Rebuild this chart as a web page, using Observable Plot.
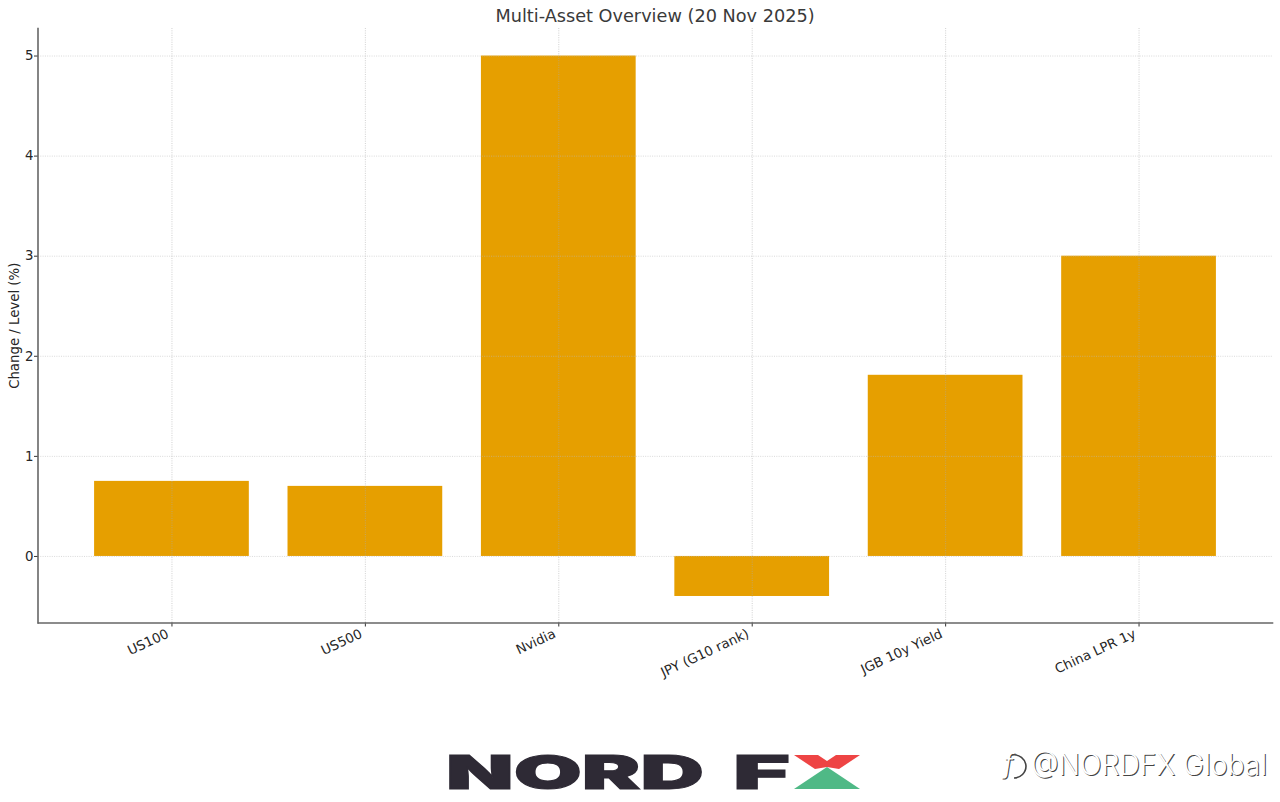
<!DOCTYPE html>
<html>
<head>
<meta charset="utf-8">
<script src="https://cdn.jsdelivr.net/npm/d3@7"></script>
<script src="https://cdn.jsdelivr.net/npm/@observablehq/plot@0.6"></script>
<style>
  html, body { margin: 0; background: #fff; width: 1280px; height: 802px; overflow: hidden; font-family: "DejaVu Sans", sans-serif; }
  #title { position: absolute; left: 38px; width: 1234px; top: 5px; text-align: center; font-size: 17.7px; line-height: 22px; color: #3a3a3a; }
  #chart { position: absolute; left: 0; top: 0; }
  #logo { position: absolute; left: 0; top: 0; }
</style>
</head>
<body>
<div id="chart"></div>
<div id="title">Multi-Asset Overview (20 Nov 2025)</div>
<svg id="logo" width="1280" height="802" style="pointer-events:none">
  <text x="446" y="788.5" font-family="Inter, sans-serif" font-weight="900" font-size="47" textLength="258" lengthAdjust="spacingAndGlyphs" fill="#2e2a35" stroke="#2e2a35" stroke-width="1">NORD</text>
  <text x="733" y="788.5" font-family="Inter, sans-serif" font-weight="900" font-size="47" textLength="57" lengthAdjust="spacingAndGlyphs" fill="#2e2a35" stroke="#2e2a35" stroke-width="1">F</text>
  <polygon points="794,755 818,755 827,761 836,755 860,755 839,769 827,767 815,769" fill="#ee4444"/>
  <polygon points="794,789 827,767 860,789" fill="#4fb986"/>
  <g font-family="Inter, Roboto, sans-serif" font-weight="300" font-size="29.5">
    <g fill="#444" transform="translate(1,0.6)">
      <text x="1004" y="773" font-size="26" font-style="italic">f</text>
      <text x="1031" y="775" textLength="236" lengthAdjust="spacingAndGlyphs">@NORDFX Global</text>
    </g>
    <path d="M1012,755 A12,12 0 0 1 1026,766 A12,12 0 0 1 1014,778" fill="none" stroke="#444" stroke-width="1.6"/>
    <g fill="#fff">
      <text x="1004" y="773" font-size="26" font-style="italic">f</text>
      <text x="1031" y="775" textLength="236" lengthAdjust="spacingAndGlyphs">@NORDFX Global</text>
    </g>
  </g>
</svg>
<script>
const categories = ["US100", "US500", "Nvidia", "JPY (G10 rank)", "JGB 10y Yield", "China LPR 1y"];
const values = [0.75, 0.7, 5, -0.4, 1.81, 3];
const yTicks = [0, 1, 2, 3, 4, 5];
const rows = categories.map((name, i) => ({name, value: values[i]}));

const chart = Plot.plot({
  width: 1280,
  height: 700,
  marginLeft: 38,
  marginRight: 8,
  marginTop: 28,
  marginBottom: 77.5,
  style: {fontFamily: "DejaVu Sans, sans-serif", fontSize: "13.3px", color: "#262626", background: "#fff"},
  x: {domain: categories, paddingInner: 0.2, paddingOuter: 0.29, round: false, label: null},
  y: {domain: [-0.665, 5.275], label: null},
  marks: [
    Plot.barY(rows, {x: "name", y: "value", fill: "#E69F00"}),
    Plot.gridX(categories, {stroke: "#aaa", strokeOpacity: 0.7, strokeWidth: 0.8, strokeDasharray: "1,1.3"}),
    Plot.gridY(yTicks, {stroke: "#bbb", strokeOpacity: 0.7, strokeWidth: 0.8, strokeDasharray: "1,1.3"}),
    Plot.axisY(yTicks, {anchor: "left", tickSize: 4, tickPadding: 1, label: null, tickFormat: d => String(d), stroke: "#333"}),
    Plot.axisX(categories, {anchor: "bottom", tickSize: 4, tickFormat: () => "", label: null, stroke: "#333"}),
    Plot.axisX(categories, {anchor: "bottom", tickSize: 0, tickPadding: 10, tickRotate: -25, label: null, dx: -4}),
    Plot.axisY({anchor: "left", ticks: [], label: "Change / Level (%)", labelAnchor: "center", labelArrow: "none", labelOffset: 29, tickSize: 0}),
    Plot.frame({anchor: "left", stroke: "#666", strokeWidth: 1.6, dx: -0.5}),
    Plot.frame({anchor: "bottom", stroke: "#666", strokeWidth: 1.6})
  ]
});
document.getElementById("chart").appendChild(chart);
</script>
</body>
</html>
